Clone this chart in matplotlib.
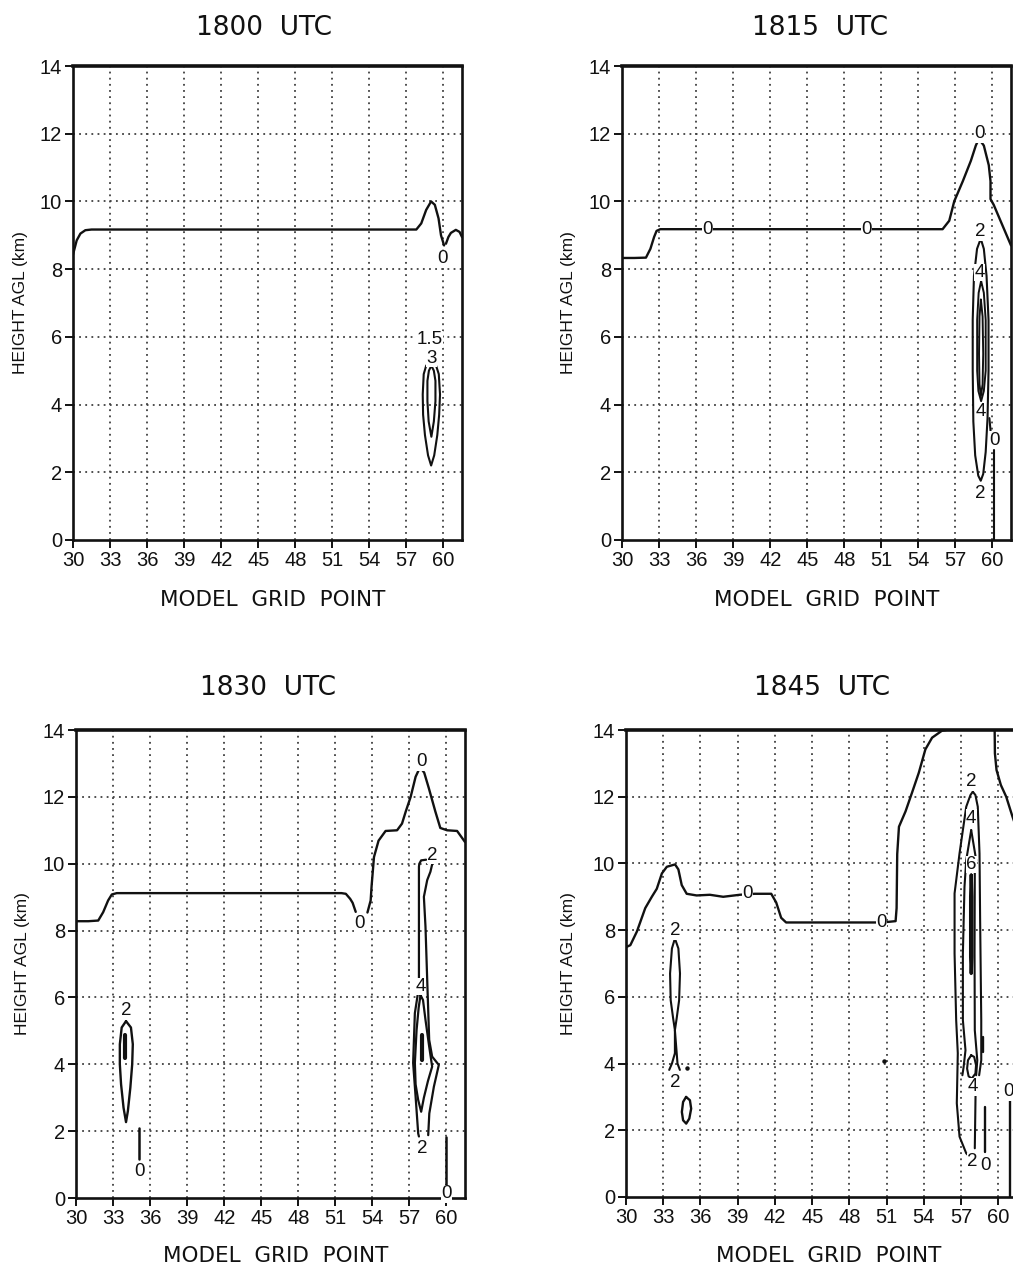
import matplotlib
matplotlib.use("Agg")
import matplotlib.pyplot as plt

# ---------------- text / axes values ----------------
TITLES = ["1800  UTC", "1815  UTC", "1830  UTC", "1845  UTC"]
X_LABEL = "MODEL  GRID  POINT"
Y_LABEL = "HEIGHT AGL (km)"
X_TICKS = [30, 33, 36, 39, 42, 45, 48, 51, 54, 57, 60]
Y_TICKS = [0, 2, 4, 6, 8, 10, 12, 14]
X_RANGE = [30, 61.5]
Y_RANGE = [0, 14]

# ---------------- 1800 UTC contours ----------------
p1800_zero_a_x = [30.0, 30.3, 30.6, 31.0, 31.5, 40.0, 50.0, 57.8, 58.2, 58.6, 59.0, 59.3, 59.6, 59.8, 60.05]
p1800_zero_a_y = [8.43, 8.85, 9.05, 9.15, 9.17, 9.17, 9.17, 9.17, 9.35, 9.75, 10.0, 9.9, 9.5, 9.0, 8.7]
p1800_zero_b_x = [60.2, 60.4, 60.6, 61.0, 61.3, 61.5]
p1800_zero_b_y = [8.75, 8.95, 9.07, 9.16, 9.1, 8.95]
p1800_c15_x = [59.0, 58.6, 58.4, 58.32, 58.35, 58.5, 58.75, 59.0, 59.25, 59.5, 59.65, 59.72, 59.62, 59.4, 59.0]
p1800_c15_y = [5.3, 5.15, 4.9, 4.3, 3.7, 3.1, 2.5, 2.2, 2.5, 3.1, 3.7, 4.3, 4.9, 5.15, 5.3]
p1800_c3_x = [59.02, 58.82, 58.7, 58.7, 58.8, 59.02, 59.22, 59.35, 59.35, 59.22, 59.02]
p1800_c3_y = [5.15, 5.0, 4.7, 4.1, 3.5, 3.05, 3.5, 4.1, 4.7, 5.0, 5.15]
p1800_lab_txt = ["0", "1.5", "3"]
p1800_lab_x = [59.95, 58.9, 59.02]
p1800_lab_y = [8.3, 5.92, 5.36]

# ---------------- 1815 UTC contours ----------------
p1815_zero_x = [30.0, 31.0, 31.94, 32.3, 32.6, 32.8, 33.1, 40.0, 50.0, 55.96, 56.5, 56.9, 57.6, 58.25,
                58.65, 58.9, 59.3, 59.7, 59.84, 59.84, 60.1, 60.8, 61.5]
p1815_zero_y = [8.33, 8.33, 8.34, 8.6, 8.95, 9.13, 9.18, 9.18, 9.18, 9.18, 9.43, 10.0, 10.6, 11.2,
                11.65, 11.85, 11.65, 11.07, 10.6, 10.07, 9.9, 9.3, 8.7]
p1815_c2_x = [59.05, 58.75, 58.5, 58.4, 58.4, 58.45, 58.6, 58.85, 59.05, 59.25, 59.45, 59.6, 59.68, 59.68, 59.52, 59.3, 59.05]
p1815_c2_y = [8.9, 8.6, 7.8, 6.5, 5.0, 3.5, 2.5, 1.9, 1.75, 1.95, 2.6, 3.6, 5.0, 6.5, 7.8, 8.6, 8.9]
p1815_c4_x = [59.08, 58.88, 58.76, 58.76, 58.86, 59.08, 59.3, 59.45, 59.45, 59.3, 59.08]
p1815_c4_y = [7.65, 7.3, 6.5, 5.0, 4.4, 4.1, 4.4, 5.0, 6.5, 7.3, 7.65]
p1815_c6_x = [59.06, 58.95, 58.91, 58.95, 59.06, 59.2, 59.25, 59.2, 59.06]
p1815_c6_y = [7.1, 6.6, 5.5, 4.6, 4.25, 4.6, 5.5, 6.6, 7.1]
p1815_zero_c_x = [59.75, 59.85]
p1815_zero_c_y = [3.6, 3.2]
p1815_zero_d_x = [60.15, 60.15]
p1815_zero_d_y = [2.65, 0.0]
p1815_lab_txt = ["0", "0", "0", "2", "4", "4", "2", "0"]
p1815_lab_x = [36.9, 49.8, 58.95, 59.05, 58.95, 59.05, 59.05, 60.15]
p1815_lab_y = [9.18, 9.18, 12.0, 9.1, 7.9, 3.8, 1.38, 2.95]

# ---------------- 1830 UTC contours ----------------
p1830_zero_a_x = [30.0, 31.0, 31.8, 32.2, 32.6, 32.9, 33.3, 40.0, 51.5, 51.85, 52.2, 52.4, 52.65]
p1830_zero_a_y = [8.28, 8.28, 8.3, 8.55, 8.9, 9.08, 9.12, 9.12, 9.12, 9.1, 8.95, 8.83, 8.56]
p1830_zero_b_x = [53.6, 53.86, 53.94, 54.13, 54.5, 55.07, 56.0, 56.4, 56.7, 57.1, 57.5, 57.75, 57.95,
                  58.2, 58.57, 59.1, 59.5, 60.05, 60.86, 61.5]
p1830_zero_b_y = [8.54, 8.9, 9.35, 10.2, 10.69, 10.98, 11.0, 11.2, 11.56, 12.0, 12.6, 12.8, 12.85,
                  12.72, 12.26, 11.56, 11.07, 11.0, 10.98, 10.65]
p1830_left2_x = [34.05, 33.7, 33.55, 33.55, 33.65, 33.85, 34.05, 34.2, 34.4, 34.55, 34.6, 34.45, 34.05]
p1830_left2_y = [5.29, 5.1, 4.6, 4.0, 3.4, 2.7, 2.27, 2.6, 3.3, 4.0, 4.6, 5.1, 5.29]
p1830_left4_x = [33.98, 33.98]
p1830_left4_y = [4.18, 4.88]
p1830_left0_x = [35.11, 35.11]
p1830_left0_y = [2.09, 1.16]
p1830_r2a_x = [58.84, 58.7, 58.44, 58.17, 58.3, 58.44, 58.6, 58.84, 59.38, 58.98, 58.61, 58.52]
p1830_r2a_y = [9.98, 9.76, 9.51, 9.01, 8.12, 6.52, 4.73, 4.23, 3.98, 3.33, 2.53, 1.88]
p1830_r2b_x = [58.35, 57.95, 57.8, 57.77, 57.77, 57.44, 57.3, 57.5, 57.71, 57.77]
p1830_r2b_y = [10.12, 10.1, 10.0, 9.91, 6.32, 5.53, 4.04, 3.03, 1.93, 1.84]
p1830_r4_x = [57.9, 57.75, 57.58, 57.44, 57.5, 57.71, 57.95, 58.17, 58.5, 58.84, 58.6, 58.3, 58.1, 57.9]
p1830_r4_y = [6.07, 5.7, 5.03, 4.04, 3.4, 2.93, 2.58, 3.0, 3.5, 3.93, 4.53, 5.33, 5.92, 6.07]
p1830_r6_x = [57.98, 57.98]
p1830_r6_y = [4.13, 4.88]
p1830_r0_x = [60.0, 60.0]
p1830_r0_y = [1.83, 0.39]
p1830_lab_txt = ["0", "0", "2", "0", "2", "4", "2", "0"]
p1830_lab_x = [52.97, 57.95, 34.04, 35.11, 58.84, 57.9, 58.03, 60.0]
p1830_lab_y = [8.2, 13.05, 5.6, 0.8, 10.26, 6.33, 1.49, 0.12]

# ---------------- 1845 UTC contours ----------------
p1845_zero_a_x = [30.0, 30.35, 30.88, 31.55, 32.08, 32.48, 32.89, 33.29, 33.95, 34.22, 34.49, 34.89,
                  35.69, 36.76, 37.83, 39.16, 40.37, 41.7, 42.1, 42.5, 42.9, 46.0, 50.12, 51.19,
                  51.72, 51.8, 51.85, 51.99, 52.52, 53.06, 53.59, 54.12, 54.66, 55.46, 55.8]
p1845_zero_a_y = [7.49, 7.55, 7.96, 8.66, 9.0, 9.24, 9.7, 9.9, 9.97, 9.82, 9.35, 9.09,
                  9.04, 9.06, 9.0, 9.06, 9.09, 9.09, 8.83, 8.37, 8.23, 8.23, 8.23, 8.25,
                  8.27, 8.66, 10.28, 11.1, 11.56, 12.14, 12.72, 13.42, 13.77, 13.98, 14.0]
p1845_zero_b_x = [59.7, 59.72, 59.85, 60.2, 60.63, 61.13, 61.5]
p1845_zero_b_y = [14.0, 13.3, 12.8, 12.35, 12.0, 11.41, 11.0]
p1845_l2_x = [33.94, 33.7, 33.55, 33.6, 33.8, 33.94, 34.08, 34.28, 34.35, 34.22, 33.94]
p1845_l2_y = [7.75, 7.45, 6.7, 5.9, 5.35, 5.0, 5.35, 5.9, 6.7, 7.45, 7.75]
p1845_l2_stem_x = [33.48, 33.7, 33.94, 33.94, 34.15, 34.34]
p1845_l2_stem_y = [3.81, 4.0, 4.31, 5.0, 4.0, 3.81]
p1845_small_x = [34.84, 34.6, 34.5, 34.6, 34.85, 35.1, 35.25, 35.15, 34.84]
p1845_small_y = [3.0, 2.85, 2.55, 2.3, 2.2, 2.35, 2.65, 2.9, 3.0]
p1845_dot_x = [34.88, 50.79]
p1845_dot_y = [3.86, 4.07]
p1845_r2a_x = [57.94, 57.75, 57.41, 56.87, 56.47, 56.47, 56.6, 56.73, 56.65, 56.87, 57.41, 57.68]
p1845_r2a_y = [12.15, 12.05, 11.7, 10.3, 9.1, 7.3, 5.3, 4.31, 2.81, 1.81, 1.31, 1.21]
p1845_r2b_x = [57.94, 58.15, 58.34, 58.48, 58.53, 58.62, 58.62, 58.45]
p1845_r2b_y = [12.15, 12.05, 11.7, 10.3, 8.3, 5.3, 4.1, 3.65]
p1845_r2c_x = [58.16, 58.1]
p1845_r2c_y = [3.05, 1.46]
p1845_r4a_x = [57.81, 57.41, 57.27, 57.14, 57.14, 57.35, 57.2, 57.1]
p1845_r4a_y = [11.0, 10.1, 9.3, 7.3, 5.3, 4.4, 3.9, 3.65]
p1845_r4b_x = [57.81, 58.21, 58.1, 58.08, 58.1, 58.3, 58.21]
p1845_r4b_y = [11.0, 10.1, 9.7, 7.3, 5.0, 4.1, 3.65]
p1845_r6_x = [57.81, 57.76, 57.76, 57.81, 57.87, 57.87, 57.81]
p1845_r6_y = [9.65, 9.0, 7.2, 6.7, 7.2, 9.0, 9.65]
p1845_rloop_x = [57.81, 57.55, 57.48, 57.6, 57.85, 58.15, 58.2, 58.05, 57.81]
p1845_rloop_y = [4.25, 4.1, 3.85, 3.62, 3.55, 3.7, 3.95, 4.2, 4.25]
p1845_rbar_x = [58.75, 58.75]
p1845_rbar_y = [4.35, 4.8]
p1845_r0_x = [58.94, 58.94]
p1845_r0_y = [2.71, 1.36]
p1845_edge0_x = [60.9, 60.9]
p1845_edge0_y = [2.9, 0.0]
p1845_lab_txt = ["0", "0", "2", "2", "2", "4", "6", "4", "2", "0", "0"]
p1845_lab_x = [39.78, 50.6, 33.95, 33.95, 57.85, 57.81, 57.81, 57.94, 57.9, 58.96, 60.8]
p1845_lab_y = [9.09, 8.23, 7.98, 3.43, 12.45, 11.36, 9.97, 3.3, 1.05, 0.95, 3.15]

# ---------------- assemble (line, width) ----------------
LW = 1.7
PANELS = [
    dict(lines=[(p1800_zero_a_x, p1800_zero_a_y, LW), (p1800_zero_b_x, p1800_zero_b_y, LW),
                (p1800_c15_x, p1800_c15_y, 1.5), (p1800_c3_x, p1800_c3_y, 1.5)],
         dots=([], []), labels=(p1800_lab_txt, p1800_lab_x, p1800_lab_y)),
    dict(lines=[(p1815_zero_x, p1815_zero_y, LW), (p1815_c2_x, p1815_c2_y, 1.5),
                (p1815_c4_x, p1815_c4_y, 1.4), (p1815_c6_x, p1815_c6_y, 1.4),
                (p1815_zero_c_x, p1815_zero_c_y, 1.5), (p1815_zero_d_x, p1815_zero_d_y, 1.5)],
         dots=([], []), labels=(p1815_lab_txt, p1815_lab_x, p1815_lab_y)),
    dict(lines=[(p1830_zero_a_x, p1830_zero_a_y, LW), (p1830_zero_b_x, p1830_zero_b_y, LW),
                (p1830_left2_x, p1830_left2_y, 1.7), (p1830_left4_x, p1830_left4_y, 3.0),
                (p1830_left0_x, p1830_left0_y, 1.8), (p1830_r2a_x, p1830_r2a_y, 1.6),
                (p1830_r2b_x, p1830_r2b_y, 1.6), (p1830_r4_x, p1830_r4_y, 1.6),
                (p1830_r6_x, p1830_r6_y, 3.0), (p1830_r0_x, p1830_r0_y, 1.8)],
         dots=([], []), labels=(p1830_lab_txt, p1830_lab_x, p1830_lab_y)),
    dict(lines=[(p1845_zero_a_x, p1845_zero_a_y, LW), (p1845_zero_b_x, p1845_zero_b_y, LW),
                (p1845_l2_x, p1845_l2_y, 1.5), (p1845_l2_stem_x, p1845_l2_stem_y, 1.5),
                (p1845_small_x, p1845_small_y, 1.7), (p1845_r2a_x, p1845_r2a_y, 1.5),
                (p1845_r2b_x, p1845_r2b_y, 1.5), (p1845_r2c_x, p1845_r2c_y, 1.5),
                (p1845_r4a_x, p1845_r4a_y, 1.5), (p1845_r4b_x, p1845_r4b_y, 1.5),
                (p1845_r6_x, p1845_r6_y, 2.3), (p1845_rloop_x, p1845_rloop_y, 1.5),
                (p1845_rbar_x, p1845_rbar_y, 1.7), (p1845_r0_x, p1845_r0_y, 1.7),
                (p1845_edge0_x, p1845_edge0_y, 1.7)],
         dots=(p1845_dot_x, p1845_dot_y), labels=(p1845_lab_txt, p1845_lab_x, p1845_lab_y)),
]

# ---------------- layout (pixels) ----------------
W, H = 1013, 1269
AX_BOX = [(73, 66, 462, 540), (622, 66, 1011, 540), (76, 730, 465, 1198), (626, 730, 1017, 1197)]
TITLE_POS = [(264, 28), (820, 28), (268, 688), (822, 688)]
XLAB_POS = [(273, 600), (827, 600), (276, 1256), (829, 1256)]
YLAB_POS = [(20, 303), (568, 303), (22, 964), (569, 964)]

plt.rcParams['font.family'] = ['Liberation Sans', 'DejaVu Sans']
fig = plt.figure(figsize=(W / 100, H / 100), dpi=100)
fig.patch.set_facecolor('white')

for i, panel in enumerate(PANELS):
    l, t, r, b = AX_BOX[i]
    ax = fig.add_axes([l / W, (H - b) / H, (r - l) / W, (b - t) / H])
    ax.set_xlim(*X_RANGE)
    ax.set_ylim(*Y_RANGE)
    ax.set_xticks(X_TICKS)
    ax.set_yticks(Y_TICKS)
    ax.tick_params(direction='out', length=6, width=1.4, labelsize=14.5, pad=2, colors='#111111')
    for side, sp in ax.spines.items():
        sp.set_linewidth(1.9)
        sp.set_color('#111111')
    ax.spines['top'].set_linewidth(2.6)
    for xv in X_TICKS[1:]:
        ax.axvline(xv, color='0.25', lw=1.3, ls=(0, (1, 2.4)), zorder=0)
    for yv in Y_TICKS[1:-1]:
        ax.axhline(yv, color='0.25', lw=1.3, ls=(0, (1, 2.4)), zorder=0)
    for xs, ys, w in panel['lines']:
        ax.plot(xs, ys, color='#111111', lw=w, solid_joinstyle='round', solid_capstyle='round',
                zorder=3, clip_on=True)
    dx, dy = panel['dots']
    if dx:
        ax.plot(dx, dy, 'o', color='#111111', ms=2.2, zorder=3)
    txt, lx, ly = panel['labels']
    for s, x, y in zip(txt, lx, ly):
        ax.text(x, y, s, fontsize=13.5, ha='center', va='center', color='#111111', zorder=4,
                bbox=dict(boxstyle='square,pad=0.02', fc='white', ec='none'))

    tx, ty = TITLE_POS[i]
    fig.text(tx / W, 1 - ty / H, TITLES[i], fontsize=19, ha='center', va='center',
             family=['DejaVu Sans'], color='#111111')
    xx, xy = XLAB_POS[i]
    fig.text(xx / W, 1 - xy / H, X_LABEL, fontsize=15.5, ha='center', va='center',
             family=['DejaVu Sans'], color='#111111')
    yx, yy = YLAB_POS[i]
    fig.text(yx / W, 1 - yy / H, Y_LABEL, fontsize=12.5, ha='center', va='center',
             rotation=90, color='#111111')

fig.savefig('out.png', dpi=100, facecolor='white')
